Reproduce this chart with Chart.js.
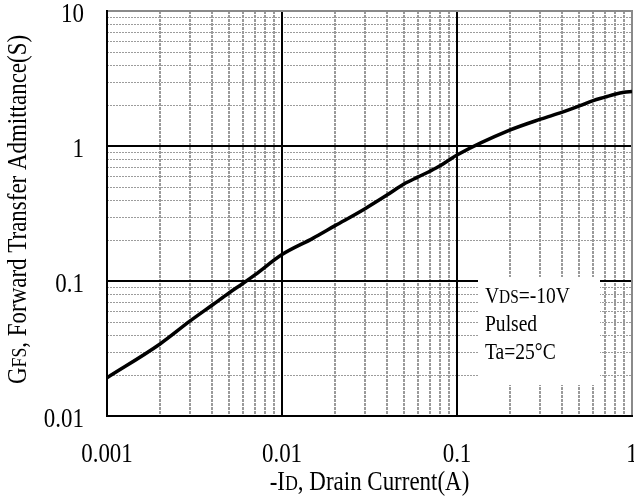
<!DOCTYPE html>
<html>
<head>
<meta charset="utf-8">
<title>Forward Transfer Admittance</title>
<script src="https://cdn.jsdelivr.net/npm/chart.js@4.4.0/dist/chart.umd.min.js"></script>
<style>
  body { margin: 0; background: #fff; }
  canvas { display: block; }
</style>
</head>
<body>
<canvas id="gfs-chart" width="634" height="499"></canvas>
<script>
// -ID drain current (A) and measured GFS (S)
var drainCurrent = [0.001, 0.002, 0.003, 0.004, 0.005, 0.006, 0.007, 0.01, 0.015, 0.02, 0.03, 0.04, 0.05, 0.06, 0.07, 0.08, 0.09, 0.1, 0.2, 0.3, 0.4, 0.5, 0.6, 0.7, 0.8, 0.9, 1];
var gfs = [0.0192, 0.034, 0.0508, 0.0664, 0.0819, 0.0962, 0.111, 0.157, 0.207, 0.256, 0.345, 0.435, 0.525, 0.59, 0.65, 0.713, 0.787, 0.858, 1.31, 1.58, 1.78, 1.98, 2.17, 2.30, 2.42, 2.50, 2.53];

// decade labels on each axis
var xTickLabels = ["0.001", "0.01", "0.1", "1"];
var yTickLabels = ["0.01", "0.1", "1", "10"];

var FONT = '"Liberation Serif", "Times New Roman", serif';
var SQUEEZE = 0.85; // the lettering is narrower than plain Times

// 1..9 x 10^e for every decade from lo to hi
function decadeTicks(lo, hi) {
  var out = [];
  for (var e = lo; e < hi; e++) {
    for (var m = 1; m < 10; m++) out.push(m * Math.pow(10, e));
  }
  out.push(Math.pow(10, hi));
  return out;
}

var xGrid = decadeTicks(-3, 0);
var yGrid = decadeTicks(-2, 1);

function isDecade(v) {
  var l = Math.log10(v);
  return Math.abs(l - Math.round(l)) < 1e-6;
}

// draw runs of text with different sizes, e.g. V + small DS
function drawRuns(ctx, runs, x, y, align) {
  ctx.save();
  var total = 0;
  runs.forEach(function (r) {
    ctx.font = r[1] + "px " + FONT;
    total += ctx.measureText(r[0]).width;
  });
  var start = 0;
  if (align === "center") start = -total / 2;
  if (align === "right") start = -total;
  ctx.translate(x, y);
  ctx.scale(SQUEEZE, 1);
  ctx.fillStyle = "#000";
  ctx.textBaseline = "alphabetic";
  ctx.textAlign = "left";
  var cx = start;
  runs.forEach(function (r) {
    ctx.font = r[1] + "px " + FONT;
    ctx.fillText(r[0], cx, 0);
    cx += ctx.measureText(r[0]).width;
  });
  ctx.restore();
}

function line(ctx, x1, y1, x2, y2) {
  ctx.beginPath(); ctx.moveTo(x1, y1); ctx.lineTo(x2, y2); ctx.stroke();
}

// dotted grid lines
function dottedV(ctx, x, y1, y2) {
  for (var y = y1; y < y2; y += 4) ctx.fillRect(x - 1, y, 2, Math.min(3, y2 - y));
}
function dottedH(ctx, y, x1, x2) {
  for (var x = x1; x < x2; x += 3) ctx.fillRect(x, y, Math.min(2, x2 - x), 1);
}

var framePlugin = {
  id: "frame",
  beforeDatasetsDraw: function (chart) {
    var ctx = chart.ctx, a = chart.chartArea;
    var xs = chart.scales.x, ys = chart.scales.y;
    ctx.save();

    // minor grid
    ctx.fillStyle = "#9a9a9a";
    xGrid.forEach(function (v) {
      if (isDecade(v)) return;
      dottedV(ctx, Math.round(xs.getPixelForValue(v)), a.top, a.bottom);
    });
    ctx.fillStyle = "#9c9c9c";
    yGrid.forEach(function (v) {
      if (isDecade(v)) return;
      dottedH(ctx, Math.round(ys.getPixelForValue(v)), a.left, a.right);
    });

    // heavy decade lines
    ctx.strokeStyle = "#000";
    ctx.lineWidth = 2;
    [0.01, 0.1].forEach(function (v) {
      var px = Math.round(xs.getPixelForValue(v));
      line(ctx, px, a.top, px, a.bottom);
    });
    [0.1, 1].forEach(function (v) {
      var py = Math.round(ys.getPixelForValue(v));
      line(ctx, a.left, py, a.right, py);
    });

    // grey top and right edges, black axes
    ctx.strokeStyle = "#8a8a8a";
    ctx.beginPath();
    ctx.moveTo(a.left, a.top); ctx.lineTo(a.right, a.top); ctx.lineTo(a.right, a.bottom);
    ctx.stroke();
    ctx.strokeStyle = "#000";
    ctx.beginPath();
    ctx.moveTo(a.left, a.top - 1); ctx.lineTo(a.left, a.bottom); ctx.lineTo(a.right + 1, a.bottom);
    ctx.stroke();

    // test condition box
    ctx.fillStyle = "#fff";
    ctx.fillRect(478, 277, 122, 108);
    ctx.restore();
    drawRuns(ctx, [["V", 23], ["DS", 18], ["=-10V", 23]], 485, 303, "left");
    drawRuns(ctx, [["Pulsed", 23]], 485, 331, "left");
    drawRuns(ctx, [["Ta=25\u00B0C", 23]], 485, 359, "left");
  },
  afterDraw: function (chart) {
    var ctx = chart.ctx, a = chart.chartArea;
    var xs = chart.scales.x, ys = chart.scales.y;
    xTickLabels.forEach(function (t) {
      drawRuns(ctx, [[t, 27]], xs.getPixelForValue(parseFloat(t)), 462, "center");
    });
    yTickLabels.forEach(function (t) {
      drawRuns(ctx, [[t, 27]], 84, ys.getPixelForValue(parseFloat(t)) + 11, "right");
    });
    drawRuns(ctx, [["-I", 27], ["D", 21], [", Drain Current(A)", 27]], (a.left + a.right) / 2, 490, "center");
    ctx.save();
    ctx.translate(26, (a.top + a.bottom) / 2 - 4);
    ctx.rotate(-Math.PI / 2);
    drawRuns(ctx, [["G", 27], ["FS", 21], [", Forward Transfer Admittance(S)", 27]], 0, 0, "center");
    ctx.restore();
  }
};

var ctx = document.getElementById("gfs-chart").getContext("2d");
var gfsChart = new Chart(ctx, {
  type: "line",
  data: {
    datasets: [
      {
        data: drainCurrent.map(function (v, i) { return { x: v, y: gfs[i] }; }),
        borderColor: "#000",
        borderWidth: 3.5,
        pointRadius: 0,
        cubicInterpolationMode: "monotone",
        fill: false
      }
    ]
  },
  options: {
    responsive: false,
    animation: false,
    devicePixelRatio: 1,
    layout: { padding: { top: 11, right: 2, left: 0, bottom: 0 } },
    plugins: {
      legend: { display: false },
      tooltip: { enabled: false }
    },
    scales: {
      x: {
        type: "logarithmic",
        min: 0.001,
        max: 1,
        afterFit: function (scale) { scale.height = 83; },
        ticks: { display: false },
        grid: { display: false },
        border: { display: false }
      },
      y: {
        type: "logarithmic",
        min: 0.01,
        max: 10,
        afterFit: function (scale) { scale.width = 107; },
        ticks: { display: false },
        grid: { display: false },
        border: { display: false }
      }
    }
  },
  plugins: [framePlugin]
});
</script>
</body>
</html>
